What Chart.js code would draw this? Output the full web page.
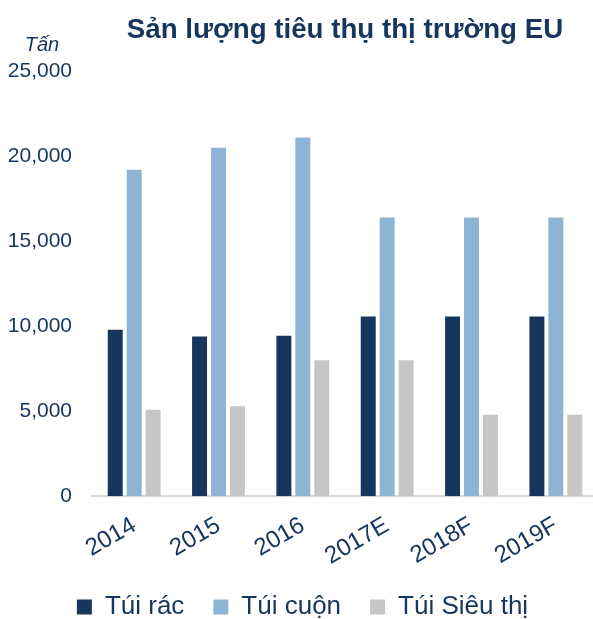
<!DOCTYPE html>
<html>
<head>
<meta charset="utf-8">
<script src="https://cdn.jsdelivr.net/npm/chart.js@4"></script>
<style>
  html, body { margin: 0; padding: 0; background: #fff; overflow: hidden; }
  #wrap { width: 598px; height: 632px; position: relative; }
</style>
</head>
<body>
<div id="wrap"><canvas id="euChart"></canvas></div>
<script>
const years = ["2014", "2015", "2016", "2017E", "2018F", "2019F"];
const tuiRac = [9800, 9400, 9450, 10570, 10570, 10570];
const tuiCuon = [19200, 20500, 21100, 16400, 16400, 16400];
const tuiSieuThi = [5100, 5300, 8000, 8000, 4800, 4800];
const yTicks = [0, 5000, 10000, 15000, 20000, 25000];

const navy = "#17365D";
const font = "'Liberation Sans', Arial, sans-serif";

// small italic unit label above the y axis
const unitLabel = {
  id: "unitLabel",
  afterDraw(chart) {
    const ctx = chart.ctx;
    ctx.save();
    ctx.font = "italic 20px " + font;
    ctx.fillStyle = navy;
    ctx.textAlign = "center";
    ctx.fillText("Tấn", 42, 45);
    ctx.restore();
  },
};

new Chart(document.getElementById("euChart"), {
  type: "bar",
  data: {
    labels: years,
    datasets: [
      { label: "Túi rác", data: tuiRac, backgroundColor: "#17365D" },
      { label: "Túi cuộn", data: tuiCuon, backgroundColor: "#8DB3D5" },
      { label: "Túi Siêu thị", data: tuiSieuThi, backgroundColor: "#C6C6C6" },
    ],
  },
  plugins: [unitLabel],
  options: {
    responsive: true,
    maintainAspectRatio: false,
    animation: false,
    categoryPercentage: 0.674,
    barPercentage: 0.79,
    layout: { padding: { left: 7, right: 0, top: 14, bottom: 2 } },
    plugins: {
      title: {
        display: true,
        text: "Sản lượng tiêu thụ thị trường EU",
        color: navy,
        font: { family: font, size: 27.7, weight: "bold" },
        fullSize: false,
        padding: { top: 0, bottom: 24 },
      },
      legend: {
        position: "bottom",
        labels: {
          color: navy,
          font: { family: font, size: 26 },
          boxWidth: 15,
          boxHeight: 15,
          padding: 29,
        },
      },
      tooltip: { enabled: false },
    },
    scales: {
      x: {
        grid: { display: false, drawTicks: false },
        border: { color: "#D9D9D9", width: 2 },
        ticks: {
          color: navy,
          font: { family: font, size: 24 },
          minRotation: 30,
          maxRotation: 30,
          padding: 15,
        },
        afterFit(axis) {
          axis.height -= 21;
        },
      },
      y: {
        min: 0,
        max: 25000,
        afterBuildTicks(axis) {
          axis.ticks = yTicks.map((v) => ({ value: v }));
        },
        afterFit(axis) {
          axis.width = 85;
        },
        grid: { display: false, drawTicks: false },
        border: { display: false },
        ticks: {
          color: navy,
          font: { family: font, size: 21 },
          padding: 20,
          callback: (v) => v.toLocaleString("en-US"),
        },
      },
    },
  },
});
</script>
</body>
</html>
